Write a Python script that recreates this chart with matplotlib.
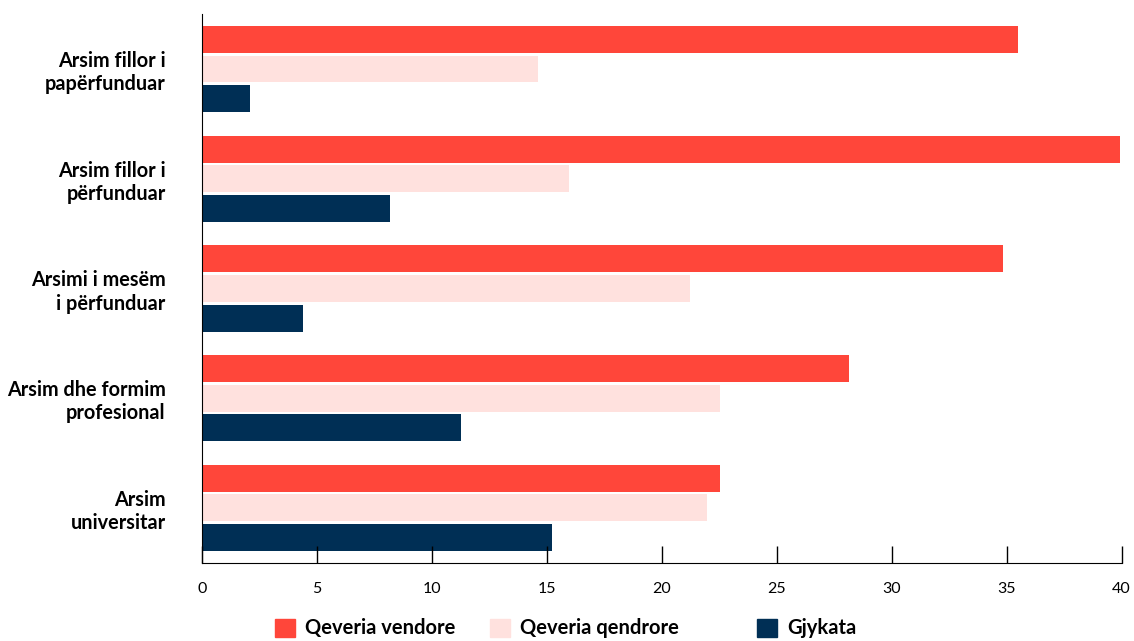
import numpy as np
import matplotlib.pyplot as plt
from matplotlib.patches import Patch

plt.rcParams['font.family'] = ['Lato', 'DejaVu Sans']

categories = ['Arsim fillor i\npapërfunduar', 'Arsim fillor i\npërfunduar',
              'Arsimi i mesëm\ni përfunduar', 'Arsim dhe formim\nprofesional',
              'Arsim\nuniversitar']
series_names = ['Qeveria vendore', 'Qeveria qendrore', 'Gjykata']
vendore = [35.5, 39.95, 34.85, 28.15, 22.55]
qendrore = [14.6, 15.95, 21.25, 22.55, 21.95]
gjykata = [2.1, 8.2, 4.4, 11.25, 15.25]
colors = ['#ff463a', '#ffe1de', '#002f55']

fig = plt.figure(figsize=(11.34, 6.41), dpi=100)
ax = fig.add_axes([0.178, 0.122, 0.811, 0.856])

y = np.arange(len(categories))
h = 0.245
step = 0.27
for i, (vals, c) in enumerate(zip([vendore, qendrore, gjykata], colors)):
    ax.barh(y + (i - 1) * step, vals, height=h, color=c, label=series_names[i])

ax.set_xlim(0, 40)
ax.set_ylim(4.5, -0.5)
ax.set_yticks(y)
ax.set_yticklabels(categories, fontsize=14.3, fontweight='bold', linespacing=1.2)
ax.tick_params(axis='y', length=0, pad=26)
ax.set_xticks(range(0, 41, 5))
ax.tick_params(axis='x', direction='in', length=12, width=1, labelsize=11.5, pad=14)
for s in ['top', 'right']:
    ax.spines[s].set_visible(False)
ax.spines['left'].set_color('black')
ax.spines['bottom'].set_color('black')

# legend entries placed individually, like the source layout
leg_x = [275 / 1134, 490 / 1134, 757 / 1134]
for name, c, x in zip(series_names, colors, leg_x):
    fig.legend([Patch(color=c)], [name], loc='lower left', bbox_to_anchor=(x, 0.004),
               frameon=False, handlelength=1.0, handleheight=1.0, handletextpad=0.5,
               borderpad=0, borderaxespad=0, prop={'weight': 'bold', 'size': 14.5})

fig.savefig('out.png', dpi=100)
